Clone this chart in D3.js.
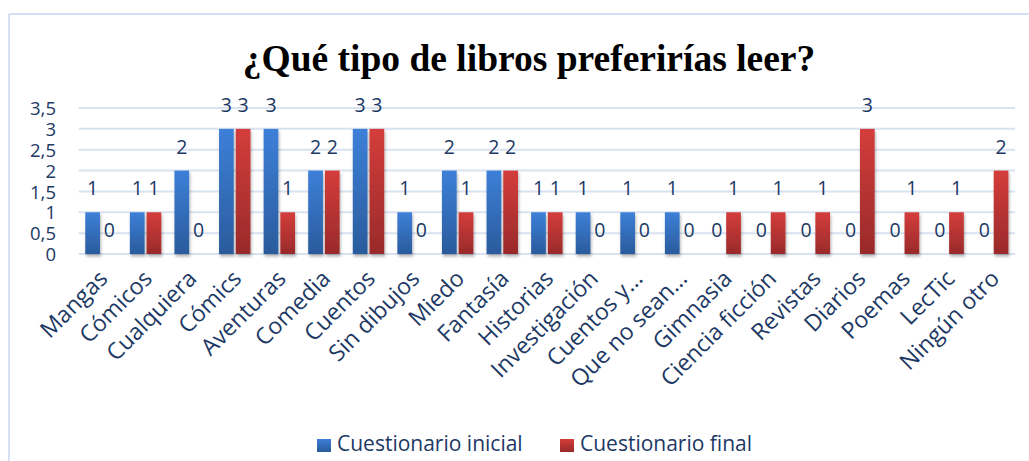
<!DOCTYPE html>
<html><head><meta charset="utf-8">
<script src="https://cdn.jsdelivr.net/npm/d3@7"></script>
<style>html,body{margin:0;padding:0;background:#fff;}svg{display:block;}</style>
</head><body>
<svg id="c" width="1029" height="461"></svg>
<script>
const categories = ["Mangas","Cómicos","Cualquiera","Cómics","Aventuras","Comedia","Cuentos","Sin dibujos","Miedo","Fantasía","Historias","Investigación","Cuentos y...","Que no sean...","Gimnasia","Ciencia ficción","Revistas","Diarios","Poemas","LecTic","Ningún otro"];
const inicial = [1,1,2,3,3,2,3,1,2,2,1,1,1,1,0,0,0,0,0,0,0];
const final   = [0,1,0,3,1,2,3,0,1,2,1,0,0,0,1,1,1,3,1,1,2];
const yTicks = [0,0.5,1,1.5,2,2.5,3,3.5];
const yTickLabels = ["0","0,5","1","1,5","2","2,5","3","3,5"];
const seriesNames = ["Cuestionario inicial","Cuestionario final"];
const title = "¿Qué tipo de libros preferirías leer?";

(function(){
const svg = d3.select("#c");
const W = 1029, H = 461;
const pLeft = 78.7, pRight = 1015, pTop = 108, pBottom = 254;
const textColor = "#203864";
const font = "'Open Sans', sans-serif";

const defs = svg.append("defs");
function grad(id, c1, c2){
  const g = defs.append("linearGradient").attr("id", id).attr("x1",0).attr("y1",0).attr("x2",0).attr("y2",1);
  g.append("stop").attr("offset","0%").attr("stop-color",c1);
  g.append("stop").attr("offset","100%").attr("stop-color",c2);
}
grad("gBlue","#3d80d8","#2a5b9c");
grad("gRed","#d43d3b","#992a2a");
const f = defs.append("filter").attr("id","sh").attr("x","-30%").attr("y","-10%").attr("width","160%").attr("height","130%");
f.append("feDropShadow").attr("dx",1).attr("dy",2.5).attr("stdDeviation",1.6).attr("flood-color","#000").attr("flood-opacity",0.3);

// frame
svg.append("line").attr("x1",9).attr("x2",W).attr("y1",14).attr("y2",14).attr("stroke","#d5e0f2").attr("stroke-width",2);
svg.append("line").attr("x1",9).attr("x2",9).attr("y1",14).attr("y2",H).attr("stroke","#d5e0f2").attr("stroke-width",2);

// title
svg.append("text").attr("x",529).attr("y",71).attr("text-anchor","middle")
  .attr("font-family","'Liberation Serif','Times New Roman',serif").attr("font-weight","bold")
  .attr("font-size",37.5).attr("fill","#000").text(title);

const x = d3.scaleBand().domain(categories).range([pLeft,pRight]).paddingInner(0).paddingOuter(0);
const y = d3.scaleLinear().domain([0,3.5]).range([pBottom,pTop]);

// gridlines
svg.append("g").selectAll("line").data(yTicks).join("line")
  .attr("x1",pLeft).attr("x2",pRight).attr("y1",d=>y(d)).attr("y2",d=>y(d))
  .attr("stroke","#d9e2f1").attr("stroke-width",2);

// y axis labels
const yAxis = d3.axisLeft(y).tickValues(yTicks).tickFormat((d,i)=>yTickLabels[i]).tickSize(0).tickPadding(0);
const ya = svg.append("g").attr("transform",`translate(56,0)`).call(yAxis);
ya.select(".domain").remove();
ya.selectAll("text").attr("font-family",font).attr("font-size",18.5).attr("fill",textColor).attr("dy","0.36em");

const bw = x.bandwidth()*0.33, gap = x.bandwidth()*0.045;
const series = [inicial, final];
const fills = ["url(#gBlue)","url(#gRed)"];
series.forEach((vals, si)=>{
  const off = si===0 ? -gap/2 - bw : gap/2;
  const data = vals.map((v,i)=>({v,c:categories[i]}));
  svg.append("g").selectAll("rect").data(data.filter(d=>d.v>0)).join("rect")
    .attr("x",d=>x(d.c)+x.bandwidth()/2+off).attr("width",bw)
    .attr("y",d=>y(d.v)).attr("height",d=>y(0)-y(d.v))
    .attr("fill",fills[si]).attr("filter","url(#sh)");
  svg.append("g").selectAll("text").data(data).join("text")
    .attr("x",d=>x(d.c)+x.bandwidth()/2+off+bw/2).attr("y",d=>y(d.v)-17)
    .attr("text-anchor","middle").attr("font-family",font).attr("font-size",19.5).attr("fill",textColor)
    .text(d=>d.v);
});

// category labels
svg.append("g").selectAll("text").data(categories).join("text")
  .attr("transform",d=>`translate(${x(d)+x.bandwidth()/2+8},${280}) rotate(-45)`)
  .attr("text-anchor","end").attr("font-family",font).attr("font-size",23).attr("fill",textColor)
  .text(d=>d);

// legend
const legX = [317,560];
seriesNames.forEach((n,i)=>{
  svg.append("rect").attr("x",legX[i]).attr("y",439).attr("width",14).attr("height",13).attr("fill",fills[i]);
  svg.append("text").attr("x",legX[i]+20).attr("y",451).attr("font-family",font).attr("font-size",21).attr("fill",textColor).text(n);
});
})();
</script>
</body></html>
